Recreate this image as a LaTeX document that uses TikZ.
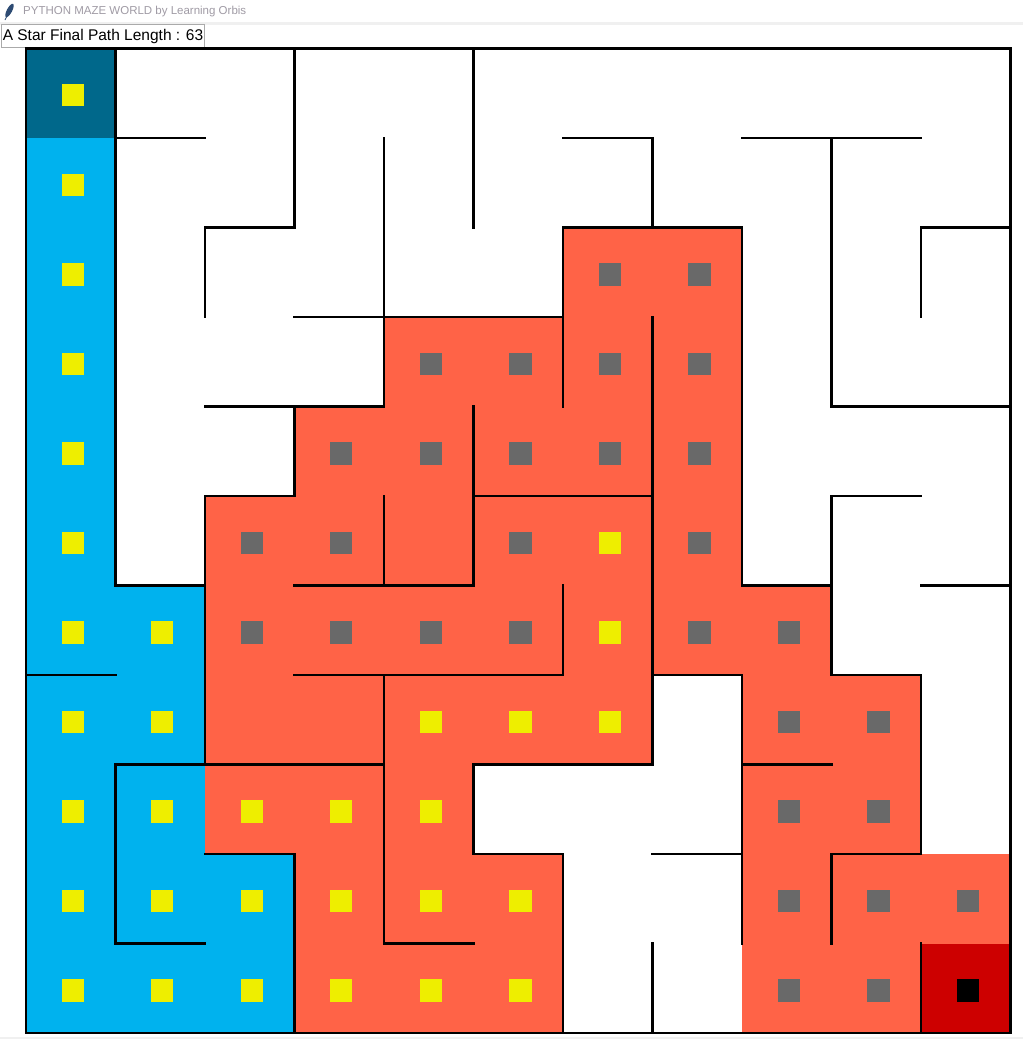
\documentclass[tikz,border=0pt]{standalone}
\usepackage{fontspec}
\newfontfamily\arialfont{Liberation Sans}
\definecolor{startc}{RGB}{0,104,139}
\definecolor{pathc}{RGB}{0,178,238}
\definecolor{seenc}{RGB}{255,99,71}
\definecolor{goalc}{RGB}{205,0,0}
\definecolor{dotyel}{RGB}{238,238,0}
\definecolor{dotgray}{RGB}{105,105,105}
\definecolor{bandc}{RGB}{240,240,240}
\definecolor{titlec}{RGB}{160,155,165}
\definecolor{lblframe}{RGB}{170,170,170}
\definecolor{quill}{RGB}{45,75,115}
\begin{document}
\begin{tikzpicture}[x=1pt,y=-1pt,wall/.style={line width=2.4pt,line cap=rect},
  lblfont/.style={font=\arialfont\fontsize{#1}{#1}\selectfont}]
\useasboundingbox[fill=white](0,0)rectangle(1023,1039);
% window frame
\fill[bandc](0,22)rectangle(1023,24.5);\fill[bandc](0,1037)rectangle(1023,1039);
\fill[quill,rotate around={-28:(9.5,10.5)}](9.5,10.5)ellipse(2.6 and 7.5);\draw[quill,line width=.8](6.5,17)--(5,20);
\node[anchor=west,inner sep=0,text=titlec,lblfont=11.5](title)at(23,12){PYTHON MAZE WORLD by Learning Orbis};
\node[draw=lblframe,line width=1,fill=white,anchor=north west,minimum width=203,minimum height=23,inner sep=0,text height=12,text depth=2.5,lblfont=15.5](lbl)at(1,23.5){A Star Final Path Length : 63};
% maze, one unit = one cell
\begin{scope}[shift={(26,48.5)},x=89.5pt,y=-89.5pt]
\fill[startc](0,0)rectangle(1,1);
\fill[pathc](0,1)rectangle(1,11)(1,6)rectangle(2,11)(2,9)rectangle(3,11);
\foreach\y/\x/\z in{3/6/8,4/4/8,5/3/8,6/2/8,7/2/9,8/2/7,8/8/10,9/2/5,9/8/10,10/3/6,10/8/11,11/3/6,11/8/10}{\fill[seenc](\x,\y-1)rectangle(\z,\y);}
\fill[goalc](10,10)rectangle(11,11);
\foreach\y in{1,...,11}{\fill[dotyel](.402,\y-.598)rectangle++(.246,.246);}
\foreach\x/\y in{2/7,2/8,2/9,2/10,2/11,3/10,3/11,7/6,7/7,5/8,6/8,7/8,3/9,4/9,5/9,4/10,5/10,6/10,4/11,5/11,6/11}{\fill[dotyel](\x-.598,\y-.598)rectangle++(.246,.246);}
\foreach\x/\y in{7/3,8/3,5/4,6/4,7/4,8/4,4/5,5/5,6/5,7/5,8/5,3/6,4/6,6/6,8/6,3/7,4/7,5/7,6/7,8/7,9/7,9/8,10/8,9/9,10/9,9/10,10/10,11/10,9/11,10/11}{\fill[dotgray](\x-.598,\y-.598)rectangle++(.246,.246);}
\fill[black](10.402,10.402)rectangle++(.246,.246);
% walls
\draw[wall](0,0)rectangle(11,11);
\foreach\x/\y/\z in{1/0/6,3/0/2,5/0/2,7/1/2,9/1/4,2/2/3,6/2/4,8/2/6,10/2/3,4/1/4,7/3/8,3/4/5,5/4/6,2/5/8,4/5/6,9/5/7,6/6/7,4/7/10,8/7/10,10/7/9,1/8/10,5/8/9,3/9/11,6/9/11,9/9/10,7/10/11,10/10/11}{\draw[wall](\x,\y)--(\x,\z);}
\foreach\y/\x/\z in{1/1/2,1/6/7,1/8/10,2/2/3,2/6/8,2/10/11,3/3/6,4/2/4,4/9/11,5/2/3,5/5/7,5/9/10,6/1/2,6/3/5,6/8/9,6/10/11,7/0/1,7/3/6,7/7/8,7/9/10,8/1/4,8/5/7,8/8/9,9/2/3,9/5/6,9/7/8,9/9/10,10/1/2,10/4/5}{\draw[wall](\x,\y)--(\z,\y);}
\end{scope}
\end{tikzpicture}
\end{document}
